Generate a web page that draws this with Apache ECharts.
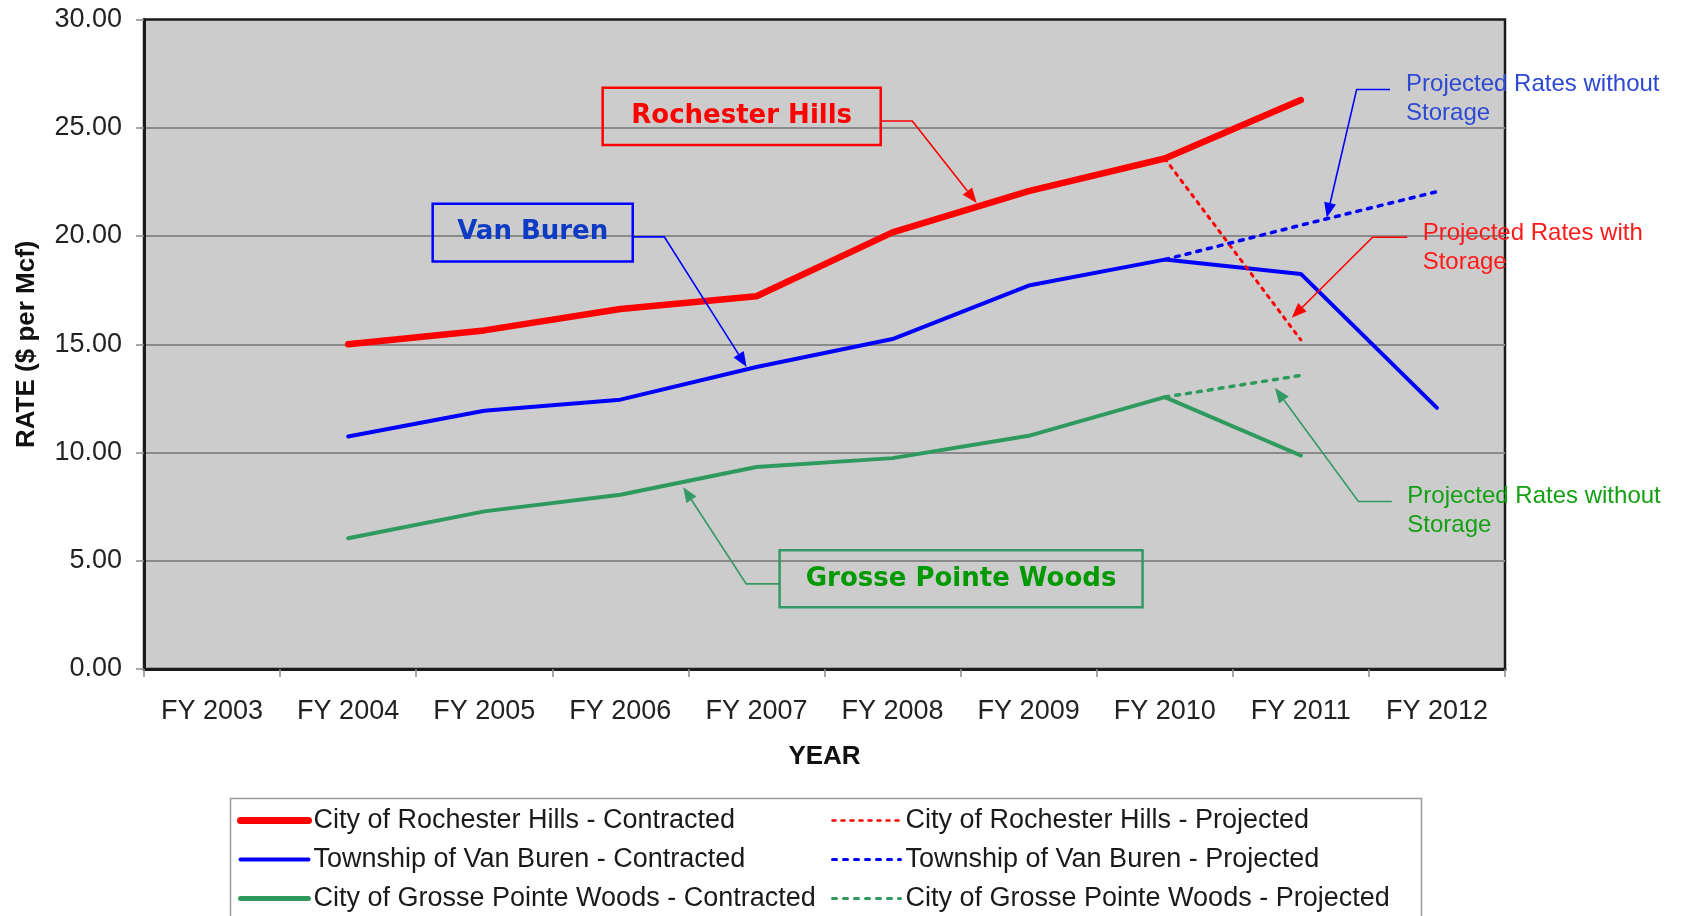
<!DOCTYPE html>
<html>
<head>
<meta charset="utf-8">
<script src="https://cdn.jsdelivr.net/npm/echarts@6/dist/echarts.min.js"></script>
<style>
html,body{margin:0;padding:0;background:#fff;}
#c{width:1686px;height:916px;}
</style>
</head>
<body>
<div id="c"></div>
<script>
// ---------------- data ----------------
const categories = ['FY 2003','FY 2004','FY 2005','FY 2006','FY 2007','FY 2008','FY 2009','FY 2010','FY 2011','FY 2012'];
const rochesterContracted = [null, 15.00, 15.64, 16.63, 17.22, 20.17, 22.07, 23.58, 26.28, null];
const vanBurenContracted  = [null, 10.74, 11.93, 12.44, 13.95, 15.24, 17.71, 18.91, 18.25, 12.06];
const grosseContracted    = [null,  6.04,  7.28,  8.05,  9.33,  9.74, 10.77, 12.56,  9.86, null];
const rochesterProjected  = [null, null, null, null, null, null, null, 23.58, 15.20, null];
const vanBurenProjected   = [null, null, null, null, null, null, null, 18.91, 20.50, 22.05];
const grosseProjected     = [null, null, null, null, null, null, null, 12.56, 13.56, null];
const seriesNames = [
  'City of Rochester Hills - Contracted',
  'Township of Van Buren - Contracted',
  'City of Grosse Pointe Woods - Contracted',
  'City of Rochester Hills - Projected',
  'Township of Van Buren - Projected',
  'City of Grosse Pointe Woods - Projected'
];
const yMin = 0, yMax = 30, yStep = 5;

// ---------------- annotation texts ----------------
const boxTexts = ['Rochester Hills', 'Van Buren', 'Grosse Pointe Woods'];
const noteTexts = ['Projected Rates without\nStorage', 'Projected Rates with\nStorage', 'Projected Rates without\nStorage'];

// annotation placement (in axis units: category index, value)
const boxPlace = [
  {x0:2.870, x1:4.913, vTop:26.85, vBot:24.20, leader:[[4.913,25.31],[5.145,25.31],[5.618,21.53]], border:'#FF0000', text:'#FF0000'},
  {x0:1.621, x1:3.091, vTop:21.49, vBot:18.82, leader:[[3.091,19.96],[3.323,19.96],[3.928,13.95]], border:'#0000FF', text:'#0D3BC4'},
  {x0:4.170, x1:6.837, vTop:5.48,  vBot:2.85,  leader:[[4.170,3.93],[3.925,3.93],[3.462,8.40]],   border:'#339966', text:'#009900'}
];
const notePlace = [
  {x:8.773, v:27.00, leader:[[8.655,26.77],[8.410,26.77],[8.190,20.84]], line:'#0000FF', text:'#2D49D3'},
  {x:8.895, v:20.11, leader:[[8.782,19.94],[8.527,19.94],[7.933,16.22]], line:'#FF0000', text:'#FF1A1A'},
  {x:8.782, v:7.97,  leader:[[8.668,7.74],[8.423,7.74],[7.810,12.98]],   line:'#339966', text:'#13A013'}
];

const FONT = '"Liberation Sans", Arial, sans-serif';
const BOLDFONT = '"DejaVu Sans", Verdana, sans-serif';

const RED = '#FF0000', BLUE = '#0000FF', GREEN = '#2F9A5E';

function lineSeries(name, data, color, width, type){
  return {
    name: name, type: 'line', data: data, symbol: 'none', connectNulls: false,
    lineStyle: {color: color, width: width, type: type || 'solid', cap: 'round', join: 'round'},
    itemStyle: {color: color},
    emphasis: {disabled: true},
    z: 3
  };
}

const chart = echarts.init(document.getElementById('c'));

const legendText = {fontFamily: FONT, fontSize: 27, color: '#1a1a1a', lineHeight: 39};
const hideSym = {opacity: 0, borderWidth: 0};

const option = {
  animation: false,
  backgroundColor: '#ffffff',
  grid: {left: 144, right: 181, top: 19.5, bottom: 247, show: true, outerBoundsMode: 'none', containLabel: false,
         backgroundColor: '#CCCCCC', borderColor: '#1a1a1a', borderWidth: 2.5},
  xAxis: {
    type: 'category', data: categories, boundaryGap: true,
    axisLine: {show: true, lineStyle: {color: '#1a1a1a', width: 3}},
    axisTick: {show: true, length: 8, lineStyle: {color: '#8a8a8a', width: 1.5}},
    axisLabel: {color: '#222', fontFamily: FONT, fontSize: 27, margin: 29},
    splitLine: {show: false},
    name: 'YEAR', nameLocation: 'middle', nameGap: 75,
    nameTextStyle: {fontFamily: FONT, fontSize: 26, fontWeight: 'bold', color: '#111'}
  },
  yAxis: {
    type: 'value', min: yMin, max: yMax, interval: yStep,
    axisLine: {show: true, lineStyle: {color: '#1a1a1a', width: 3}},
    axisTick: {show: true, length: 8, lineStyle: {color: '#8a8a8a', width: 1.5}},
    axisLabel: {formatter: v => v.toFixed(2), color: '#222', fontFamily: FONT, fontSize: 27, margin: 22},
    splitLine: {show: true, showMinLine: false, showMaxLine: false, lineStyle: {color: '#8a8a8a', width: 2}},
    name: 'RATE ($ per Mcf)', nameLocation: 'middle', nameGap: 104, nameRotate: 90,
    nameTextStyle: {fontFamily: FONT, fontSize: 26, fontWeight: 'bold', color: '#111'}
  },
  legend: [
    {orient: 'vertical', left: 237, top: 801, height: 140, width: 560, padding: 0, itemWidth: 68, itemHeight: 14, itemGap: 0,
     selectedMode: false, textStyle: legendText, itemStyle: hideSym,
     data: [
       {name: seriesNames[0], lineStyle: {width: 7}, itemStyle: hideSym},
       {name: seriesNames[1], lineStyle: {width: 4}, itemStyle: hideSym},
       {name: seriesNames[2], lineStyle: {width: 5}, itemStyle: hideSym}
     ]},
    {orient: 'vertical', left: 831, top: 801, height: 140, width: 560, padding: 0, itemWidth: 68, itemHeight: 14, itemGap: 0,
     selectedMode: false, textStyle: legendText, itemStyle: hideSym,
     data: [
       {name: seriesNames[3], lineStyle: {width: 2.5}, itemStyle: hideSym},
       {name: seriesNames[4], lineStyle: {width: 3}, itemStyle: hideSym},
       {name: seriesNames[5], lineStyle: {width: 3}, itemStyle: hideSym}
     ]}
  ],
  series: [
    lineSeries(seriesNames[0], rochesterContracted, RED, 6.5),
    lineSeries(seriesNames[1], vanBurenContracted, BLUE, 4),
    lineSeries(seriesNames[2], grosseContracted, GREEN, 4),
    lineSeries(seriesNames[3], rochesterProjected, RED, 3, [3, 6]),
    lineSeries(seriesNames[4], vanBurenProjected, BLUE, 3.5, [4, 7]),
    lineSeries(seriesNames[5], grosseProjected, GREEN, 3.5, [4, 7])
  ]
};
chart.setOption(option);

// ---------------- annotations ----------------
function px(xi, v){
  const a = chart.convertToPixel({gridIndex: 0}, [0, v]);
  const b = chart.convertToPixel({gridIndex: 0}, [1, v]);
  return [a[0] + (b[0] - a[0]) * xi, a[1]];
}
function arrowEls(ptsData, color, lw){
  const pts = ptsData.map(p => px(p[0], p[1]));
  const n = pts.length, tip = pts[n-1], prev = pts[n-2];
  const dx = tip[0] - prev[0], dy = tip[1] - prev[1];
  const L = Math.hypot(dx, dy), ux = dx / L, uy = dy / L;
  const hl = 15, hw = 6;
  const base = [tip[0] - ux * hl, tip[1] - uy * hl];
  const head = [tip, [base[0] - uy * hw, base[1] + ux * hw], [base[0] + uy * hw, base[1] - ux * hw]];
  const linePts = pts.slice(0, n-1).concat([base]);
  return [
    {type: 'polyline', shape: {points: linePts}, style: {stroke: color, lineWidth: lw, fill: null}, z: 20, silent: true},
    {type: 'polygon', shape: {points: head}, style: {fill: color}, z: 20, silent: true}
  ];
}

const g = [];
boxPlace.forEach((b, i) => {
  const p0 = px(b.x0, b.vTop), p1 = px(b.x1, b.vBot);
  g.push({type: 'rect', shape: {x: p0[0], y: p0[1], width: p1[0] - p0[0], height: p1[1] - p0[1]},
          style: {fill: null, stroke: b.border, lineWidth: 2.5}, z: 20, silent: true});
  g.push({type: 'text', x: (p0[0] + p1[0]) / 2, y: (p0[1] + p1[1]) / 2, z: 21, silent: true,
          style: {text: boxTexts[i], fill: b.text, font: 'bold 26px ' + BOLDFONT, align: 'center', verticalAlign: 'middle'}});
  arrowEls(b.leader, b.border, 1.6).forEach(e => g.push(e));
});
notePlace.forEach((n, i) => {
  const p = px(n.x, n.v);
  g.push({type: 'text', x: p[0], y: p[1] - 14.5, z: 21, silent: true,
          style: {text: noteTexts[i], fill: n.text, font: '24px ' + FONT, align: 'left', verticalAlign: 'top', lineHeight: 29}});
  arrowEls(n.leader, n.line, 1.6).forEach(e => g.push(e));
});
// legend frame
g.push({type: 'rect', shape: {x: 230.5, y: 798.5, width: 1191, height: 160},
        style: {fill: null, stroke: '#9a9a9a', lineWidth: 1.5}, z: 1, silent: true});

chart.setOption({graphic: g});
</script>
</body>
</html>
